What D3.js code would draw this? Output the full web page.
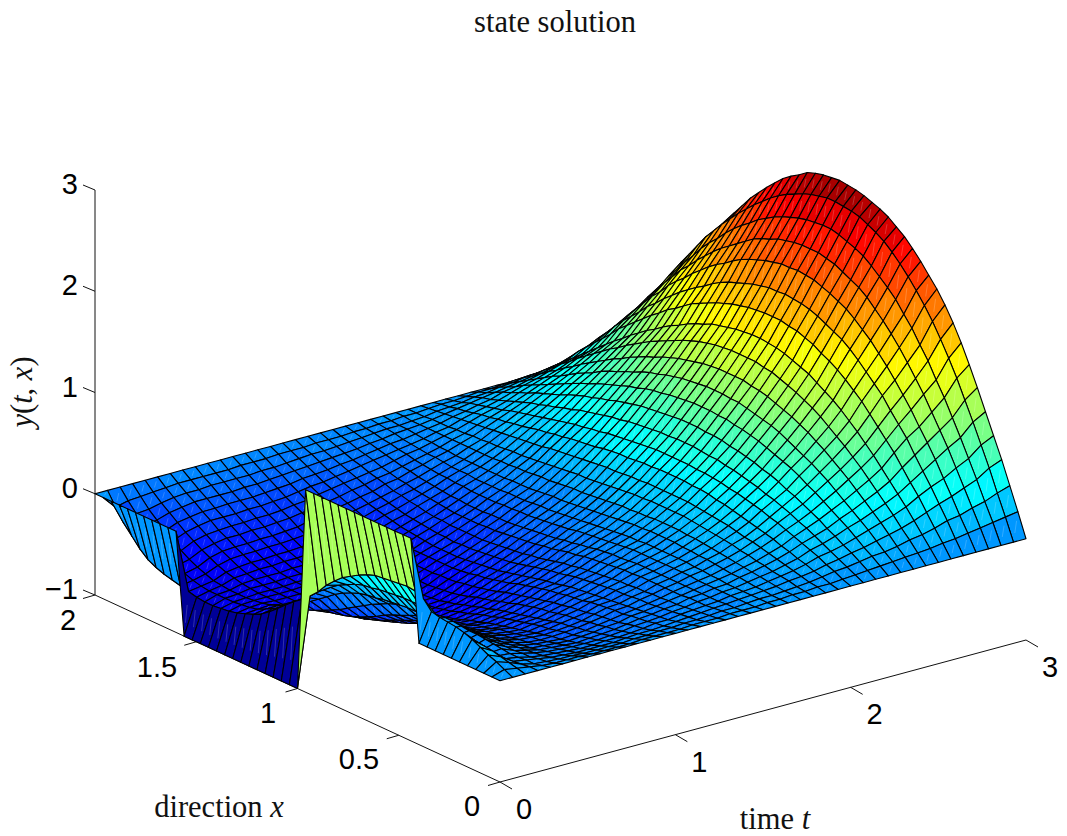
<!DOCTYPE html>
<html>
<head>
<meta charset="utf-8">
<script src="https://cdn.jsdelivr.net/npm/d3@7"></script>
<style>
html,body{margin:0;padding:0;background:#fff}
svg{display:block}
.num{font-family:"Liberation Sans",Arial,sans-serif;font-size:29px;fill:#000}
.lab{font-family:"Liberation Serif",serif;font-size:30.5px;fill:#111}
</style>
</head>
<body>
<svg id="chart" width="1067" height="836"></svg>
<script>
// State y(t,x) in hundredths. One row per time level t = j*3/42, each row running over x = i*0.04.
const yRows = [
[0,0,0,0,0,0,0,0,0,0,0,100,100,100,100,100,100,100,100,100,100,100,100,100,100,-100,-100,-100,-100,-100,-100,-100,-100,-100,-100,-100,-100,-100,-100,-100,0,0,0,0,0,0,0,0,0,0,0],
[0,4,8,11,15,19,22,24,25,26,28,37,41,42,41,40,39,38,35,31,26,21,14,6,-4,-12,-19,-25,-32,-39,-46,-52,-56,-59,-62,-64,-65,-66,-66,-65,-63,-61,-59,-57,-54,-50,-43,-34,-25,-13,0],
[0,2,4,6,8,9,10,10,10,11,14,18,20,20,20,20,19,18,17,15,14,11,7,3,-3,-9,-16,-24,-32,-39,-45,-50,-54,-58,-60,-61,-62,-62,-62,-62,-61,-59,-56,-52,-47,-41,-35,-27,-19,-10,0],
[0,0,-1,-2,-3,-4,-5,-6,-6,-4,-2,0,2,3,3,3,3,2,1,0,-2,-3,-5,-8,-12,-17,-23,-29,-35,-40,-45,-50,-54,-57,-59,-60,-61,-61,-61,-60,-59,-56,-53,-49,-44,-38,-32,-25,-18,-9,0],
[0,-2,-4,-4,-5,-5,-4,-3,-2,-1,-1,0,1,1,0,-1,-2,-3,-5,-8,-11,-15,-19,-24,-29,-34,-39,-43,-47,-51,-54,-57,-59,-60,-60,-60,-60,-59,-58,-56,-54,-51,-47,-43,-38,-33,-27,-21,-15,-8,0],
[0,-3,-5,-6,-8,-8,-9,-9,-9,-9,-9,-9,-9,-10,-11,-12,-14,-16,-19,-22,-26,-29,-33,-38,-42,-46,-49,-52,-54,-56,-58,-59,-60,-60,-60,-60,-60,-59,-57,-55,-52,-48,-44,-40,-35,-30,-25,-19,-13,-7,0],
[0,-3,-6,-8,-10,-11,-12,-13,-14,-15,-15,-16,-17,-18,-19,-21,-23,-25,-28,-31,-34,-38,-41,-45,-49,-52,-55,-57,-58,-59,-59,-60,-60,-60,-60,-60,-60,-59,-57,-54,-51,-47,-43,-38,-34,-28,-23,-17,-12,-6,0],
[0,-3,-6,-9,-11,-13,-15,-17,-18,-19,-20,-22,-23,-25,-26,-28,-30,-33,-35,-38,-41,-44,-48,-51,-54,-57,-58,-59,-59,-60,-60,-60,-60,-60,-60,-59,-59,-58,-57,-54,-51,-47,-43,-38,-33,-28,-23,-17,-12,-6,0],
[0,-4,-7,-10,-12,-14,-16,-18,-20,-22,-23,-25,-26,-28,-30,-32,-34,-36,-39,-42,-45,-48,-50,-53,-56,-58,-59,-59,-60,-60,-60,-60,-60,-60,-60,-59,-59,-58,-56,-53,-50,-46,-42,-37,-33,-28,-22,-17,-11,-6,0],
[0,-4,-7,-10,-13,-15,-17,-19,-21,-23,-24,-26,-28,-30,-31,-34,-36,-38,-41,-43,-46,-49,-52,-55,-57,-59,-59,-60,-60,-60,-60,-60,-60,-60,-60,-59,-59,-58,-56,-53,-50,-46,-42,-37,-32,-27,-22,-17,-11,-6,0],
[0,-4,-7,-10,-13,-15,-18,-20,-22,-23,-25,-27,-29,-31,-33,-35,-37,-39,-42,-44,-47,-50,-52,-55,-57,-59,-59,-60,-60,-60,-60,-60,-60,-60,-60,-59,-58,-57,-55,-52,-49,-45,-41,-36,-32,-27,-22,-16,-11,-6,0],
[0,-4,-7,-10,-12,-15,-17,-19,-21,-22,-24,-26,-27,-29,-31,-33,-35,-37,-40,-42,-45,-48,-50,-53,-55,-57,-58,-59,-59,-60,-60,-60,-60,-60,-59,-59,-57,-56,-54,-51,-47,-44,-40,-35,-31,-26,-21,-16,-11,-5,0],
[0,-3,-6,-9,-12,-14,-16,-18,-20,-21,-23,-24,-26,-28,-30,-32,-34,-36,-38,-40,-43,-45,-48,-50,-53,-55,-57,-58,-59,-60,-60,-60,-60,-59,-58,-57,-55,-53,-51,-48,-45,-41,-37,-33,-29,-25,-20,-15,-10,-5,0],
[0,-3,-6,-8,-11,-13,-15,-16,-18,-19,-21,-22,-23,-25,-27,-28,-30,-32,-34,-37,-39,-42,-44,-46,-49,-51,-53,-54,-55,-56,-56,-56,-56,-56,-55,-54,-52,-50,-48,-45,-42,-39,-36,-32,-28,-23,-19,-14,-10,-5,0],
[0,-3,-5,-8,-10,-11,-13,-15,-16,-17,-18,-20,-21,-22,-24,-25,-27,-29,-31,-33,-35,-37,-40,-42,-44,-46,-47,-49,-50,-50,-51,-51,-51,-50,-50,-49,-47,-46,-44,-41,-38,-36,-32,-29,-25,-21,-17,-13,-9,-4,0],
[0,-3,-5,-7,-8,-10,-11,-12,-14,-14,-15,-16,-17,-19,-20,-21,-23,-24,-26,-28,-30,-32,-35,-37,-39,-41,-42,-44,-45,-46,-46,-46,-46,-46,-46,-45,-43,-42,-40,-38,-36,-33,-30,-27,-23,-20,-16,-12,-8,-4,0],
[0,-2,-4,-6,-8,-9,-10,-11,-12,-13,-14,-15,-16,-17,-18,-19,-20,-22,-24,-25,-27,-29,-31,-33,-35,-37,-38,-39,-40,-41,-42,-42,-42,-42,-41,-40,-39,-38,-36,-34,-32,-30,-27,-24,-21,-18,-15,-11,-7,-4,0],
[0,-2,-4,-5,-6,-7,-8,-9,-10,-10,-11,-12,-12,-13,-14,-15,-16,-17,-19,-21,-22,-24,-26,-28,-30,-32,-33,-34,-35,-36,-37,-37,-38,-37,-37,-36,-35,-34,-33,-31,-29,-27,-25,-22,-19,-16,-13,-10,-7,-3,0],
[0,-2,-3,-4,-5,-6,-7,-7,-8,-8,-9,-9,-10,-10,-11,-12,-13,-14,-15,-17,-18,-20,-22,-24,-25,-27,-28,-29,-30,-31,-32,-32,-32,-32,-32,-31,-31,-30,-28,-27,-25,-24,-21,-19,-17,-14,-12,-9,-6,-3,0],
[0,-1,-2,-3,-4,-4,-4,-5,-5,-5,-5,-5,-5,-6,-6,-7,-8,-9,-10,-11,-13,-14,-16,-18,-19,-21,-22,-23,-24,-25,-26,-26,-27,-27,-27,-27,-26,-25,-24,-23,-22,-20,-19,-17,-15,-12,-10,-8,-5,-3,0],
[0,-1,-2,-2,-3,-3,-3,-3,-3,-3,-3,-3,-3,-3,-3,-4,-5,-5,-6,-7,-9,-10,-12,-13,-15,-16,-17,-18,-19,-20,-21,-21,-21,-22,-22,-22,-21,-21,-20,-19,-18,-17,-15,-14,-12,-10,-8,-6,-4,-2,0],
[0,-1,-1,-1,-1,-1,-1,-1,-1,0,0,0,0,0,0,0,0,-1,-2,-3,-4,-5,-6,-7,-9,-10,-11,-12,-13,-14,-14,-15,-15,-16,-16,-16,-16,-15,-15,-14,-14,-13,-12,-11,-9,-8,-6,-5,-3,-2,0],
[0,0,0,0,0,0,0,1,1,2,2,3,3,3,3,3,3,2,2,1,0,-1,-2,-3,-4,-5,-6,-7,-8,-8,-9,-10,-10,-10,-11,-11,-11,-11,-10,-10,-10,-9,-8,-8,-7,-6,-5,-3,-2,-1,0],
[0,0,0,1,1,2,3,3,4,5,6,6,7,7,8,8,8,8,7,7,6,5,4,3,2,1,0,-1,-2,-2,-3,-4,-5,-5,-5,-6,-6,-6,-6,-6,-6,-6,-5,-5,-4,-4,-3,-2,-2,-1,0],
[0,1,1,2,3,4,5,6,7,8,9,10,11,12,12,13,13,13,13,12,12,11,11,10,9,8,7,6,6,5,4,3,3,2,1,1,0,0,-1,-1,-1,-1,-1,-1,-1,-1,-1,-1,-1,0,0],
[0,1,2,4,5,6,8,9,11,12,14,15,16,17,18,19,20,20,20,20,20,19,19,18,17,16,15,14,13,13,12,11,10,9,8,7,6,6,5,4,4,3,3,2,2,1,1,1,0,0,0],
[0,2,3,5,7,9,11,13,15,17,18,20,22,23,24,25,26,27,27,27,27,27,27,26,26,25,24,24,23,22,21,20,19,18,17,15,14,13,12,11,10,9,8,7,6,5,4,3,2,1,0],
[0,2,5,7,10,12,15,17,20,22,24,26,28,30,32,33,35,36,36,37,37,37,37,36,36,35,34,34,33,32,30,29,28,27,25,24,22,21,19,17,16,14,13,11,10,8,6,5,3,2,0],
[0,3,7,10,14,17,20,23,26,29,31,34,36,38,40,41,43,44,45,45,46,46,46,46,46,45,44,43,42,41,40,38,37,35,34,32,30,28,26,24,22,20,18,15,13,11,9,7,4,2,0],
[0,4,8,12,16,20,24,28,31,35,38,41,43,46,48,50,52,53,55,55,56,57,57,57,56,56,55,54,53,52,50,49,47,45,43,41,38,36,33,31,28,26,23,20,17,14,11,9,6,3,0],
[0,5,10,15,19,24,28,33,37,41,45,48,52,55,57,60,62,64,65,67,68,68,69,69,69,68,67,66,65,64,62,60,58,55,53,50,48,45,42,38,35,32,29,25,22,18,15,11,7,4,0],
[0,6,12,17,23,29,34,39,44,49,53,58,62,65,68,71,74,76,78,79,81,81,82,82,82,81,80,79,77,76,74,71,69,66,63,60,57,53,50,46,42,38,34,30,26,22,17,13,9,4,0],
[0,7,13,20,27,33,39,45,51,57,62,67,71,75,79,83,86,88,90,92,94,94,95,95,95,94,93,92,90,88,85,83,80,76,73,69,66,62,57,53,49,44,39,35,30,25,20,15,10,5,0],
[0,8,15,23,31,38,45,52,59,65,71,77,82,87,91,95,98,101,104,106,107,109,109,109,109,108,107,105,103,101,98,95,91,88,84,80,75,71,66,61,56,51,45,40,34,29,23,17,12,6,0],
[0,9,18,26,35,43,51,59,67,74,81,87,93,99,104,108,112,115,118,121,122,124,124,124,124,123,122,120,118,115,112,108,104,100,96,91,86,81,75,70,64,58,52,46,39,33,26,20,13,7,0],
[0,10,20,30,40,49,58,67,76,84,92,99,106,112,117,122,127,130,133,136,138,139,140,140,139,138,136,134,132,128,125,121,116,112,107,101,96,90,84,77,71,64,57,50,43,36,29,22,15,7,0],
[0,12,23,35,47,57,68,79,88,97,106,115,122,129,135,140,144,149,152,155,156,158,158,158,157,156,154,152,149,146,142,138,134,128,122,117,110,104,97,90,83,76,67,59,51,43,35,26,17,9,0],
[0,13,27,40,53,65,77,90,100,110,121,129,137,145,152,158,162,166,170,173,175,176,177,176,176,174,172,169,166,163,159,154,148,143,137,131,124,117,109,102,93,85,77,68,58,49,39,29,20,10,0],
[0,15,29,44,58,73,86,98,111,122,133,143,152,161,168,175,181,185,189,192,195,196,197,196,196,194,192,189,186,182,177,171,166,160,153,146,138,131,123,113,105,95,85,75,64,54,44,32,22,12,0],
[0,17,33,49,65,81,95,109,123,135,147,158,168,177,185,193,199,203,207,211,213,215,215,215,214,212,210,206,203,199,193,187,181,175,168,160,152,143,135,125,115,104,94,82,71,60,48,36,24,13,0],
[0,19,36,54,71,88,104,120,134,149,161,174,184,195,203,210,217,223,227,230,233,235,235,234,233,231,228,225,221,216,211,204,198,191,183,174,166,157,146,136,125,115,102,90,77,65,53,39,27,14,0],
[0,21,41,62,81,100,118,136,152,167,181,193,204,214,223,231,238,243,247,251,253,254,255,255,253,251,248,244,240,235,229,222,215,207,199,190,181,171,161,149,137,125,112,98,84,71,58,43,29,15,0],
[0,23,45,67,87,107,127,146,164,180,194,206,216,226,235,243,249,255,259,262,265,267,268,269,268,267,265,262,256,251,245,237,229,220,211,200,189,177,165,152,139,125,112,98,85,71,58,43,28,14,0]
];

const timeTicks = [0, 1, 2, 3];
const directionTicks = [0, 0.5, 1, 1.5, 2];
const directionTickLabels = ["0", "0.5", "1", "1.5", "2"];
const stateTicks = [-1, 0, 1, 2, 3];
const stateTickLabels = ["\u22121", "0", "1", "2", "3"];
const timeDomain = [0, 3];
const directionDomain = [0, 2];
const stateDomain = [-1, 3];
const colorLimits = [-1, 2.7];

const timeStep = timeDomain[1] / (yRows.length - 1);
const directionStep = directionDomain[1] / (yRows[0].length - 1);

// Oblique projection: each data axis contributes a fixed screen offset.
const origin = [500, 782];
const tToX = d3.scaleLinear().domain(timeDomain).range([0, 526]);
const tToY = d3.scaleLinear().domain(timeDomain).range([0, -142]);
const xToX = d3.scaleLinear().domain(directionDomain).range([0, -405]);
const xToY = d3.scaleLinear().domain(directionDomain).range([0, -187]);
const zToY = d3.scaleLinear().domain(stateDomain).range([0, -405]);
const project = (t, x, z) => [
  origin[0] + tToX(t) + xToX(x),
  origin[1] + tToY(t) + xToY(x) + zToY(z)
];

// 64-level jet colormap; the green middle is the blend of the cyan and yellow stops.
const jet = d3.scaleLinear()
  .domain([0, 0.125, 0.375, 0.625, 0.875, 1])
  .range(["#000090", "#0000ff", "#00ffff", "#ffff00", "#ff0000", "#800000"]);
const level = d3.scaleQuantize().domain(colorLimits).range(d3.range(64).map(k => jet((k + 0.5) / 64)));

// Far cells first, so nearer cells paint over them.
const cells = [];
for (let j = yRows.length - 2; j >= 0; j--) {
  for (let i = yRows[0].length - 2; i >= 0; i--) {
    const t0 = j * timeStep, t1 = (j + 1) * timeStep;
    const x0 = i * directionStep, x1 = (i + 1) * directionStep;
    const z = (a, b) => yRows[a][b] / 100;
    cells.push({
      a: project(t0, x0, z(j, i)),
      b: project(t1, x0, z(j + 1, i)),
      c: project(t1, x1, z(j + 1, i + 1)),
      d: project(t0, x1, z(j, i + 1)),
      value: z(j, i)
    });
  }
}

const svg = d3.select("#chart");
const segment = (p, q) => `M${p[0]},${p[1]}L${q[0]},${q[1]}`;

// Box edges and tick marks.
const axisGroup = svg.append("g").attr("fill", "none").attr("stroke", "#111").attr("stroke-width", 1);
axisGroup.append("path").attr("d", segment(project(0, 0, -1), project(3, 0, -1)));
axisGroup.append("path").attr("d", segment(project(0, 0, -1), project(0, 2, -1)));
axisGroup.append("path").attr("d", segment(project(0, 2, -1), project(0, 2, 3)));
axisGroup.selectAll(".tt").data(timeTicks).join("path")
  .attr("d", d => { const p = project(d, 0, -1); return segment(p, [p[0] + 12, p[1] + 7]); });
axisGroup.selectAll(".xt").data(directionTicks).join("path")
  .attr("d", d => { const p = project(0, d, -1); return segment(p, [p[0] - 12, p[1] + 3.5]); });
axisGroup.selectAll(".zt").data(stateTicks).join("path")
  .attr("d", d => { const p = project(0, 2, d); return segment(p, [p[0] - 12, p[1] - 5]); });

// Surface facets.
const surface = svg.append("g");
const facets = surface.selectAll("g").data(cells).join("g");
facets.append("path")
  .attr("d", d => `M${d.a}L${d.b}L${d.c}L${d.d}Z`)
  .attr("fill", d => level(d.value))
  .attr("stroke", "#000")
  .attr("stroke-width", 1.1)
  .attr("stroke-linejoin", "round");
// Faint seam along each facet's split.
facets.append("path")
  .attr("d", d => {
    const p = [d.a[0] + (d.c[0] - d.a[0]) * 0.3, d.a[1] + (d.c[1] - d.a[1]) * 0.3];
    const q = [d.a[0] + (d.c[0] - d.a[0]) * 0.7, d.a[1] + (d.c[1] - d.a[1]) * 0.7];
    return segment(p, q);
  })
  .attr("stroke", "#fff")
  .attr("stroke-opacity", 0.28)
  .attr("stroke-width", 0.7);

// Tick labels.
const numbers = svg.append("g").attr("class", "num");
numbers.selectAll(".zl").data(stateTicks).join("text")
  .attr("x", 78)
  .attr("y", d => project(0, 2, d)[1] + 4)
  .attr("text-anchor", "end")
  .text((d, k) => stateTickLabels[k]);
const directionLabelPos = [[472, 816], [359, 769], [268, 723], [157, 677], [68, 630]];
numbers.selectAll(".xl").data(directionTicks).join("text")
  .attr("x", (d, k) => directionLabelPos[k][0])
  .attr("y", (d, k) => directionLabelPos[k][1])
  .attr("text-anchor", "middle")
  .text((d, k) => directionTickLabels[k]);
numbers.selectAll(".tl").data(timeTicks).join("text")
  .attr("x", d => project(d, 0, -1)[0] + 24)
  .attr("y", d => project(d, 0, -1)[1] + 37)
  .attr("text-anchor", "middle")
  .text(d => d);

// Axis titles.
const labels = svg.append("g").attr("class", "lab");
labels.append("text").attr("x", 555).attr("y", 32).attr("text-anchor", "middle").text("state solution");
const dirLab = labels.append("text").attr("x", 219).attr("y", 817).attr("text-anchor", "middle");
dirLab.append("tspan").text("direction ");
dirLab.append("tspan").attr("font-style", "italic").text("x");
const timeLab = labels.append("text").attr("x", 775).attr("y", 829).attr("text-anchor", "middle");
timeLab.append("tspan").text("time ");
timeLab.append("tspan").attr("font-style", "italic").text("t");
const stateLab = labels.append("text").attr("transform", "translate(32,392) rotate(-90)").attr("text-anchor", "middle");
stateLab.append("tspan").attr("font-style", "italic").text("y");
stateLab.append("tspan").text("(");
stateLab.append("tspan").attr("font-style", "italic").text("t");
stateLab.append("tspan").text(", ");
stateLab.append("tspan").attr("font-style", "italic").text("x");
stateLab.append("tspan").text(")");
</script>
</body>
</html>
